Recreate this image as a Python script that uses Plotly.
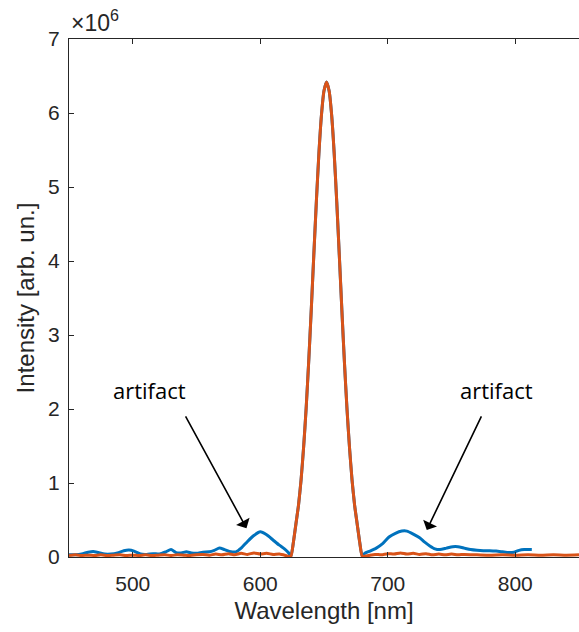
import plotly.graph_objects as go

# Spectra (intensity in units of 1e6, arb. un.)
peak_wl = [624, 626, 628, 630, 632, 634, 636, 638, 640, 642, 644, 646, 648, 650,
           652, 654, 656, 658, 660, 662, 664, 666, 668, 670, 672, 674, 676, 678, 680]
peak_int = [0.01, 0.2, 0.45, 0.7, 1.04, 1.48, 2.01, 2.64, 3.34, 4.08, 4.80, 5.45, 5.97, 6.30,
            6.42, 6.30, 5.97, 5.45, 4.80, 4.08, 3.34, 2.64, 2.01, 1.48, 1.04, 0.7, 0.45, 0.2, 0.01]

blue_left_wl = [450, 455, 460, 465, 469, 473, 478, 483, 488, 493, 497, 501, 506, 511, 516,
                521, 526, 530, 534, 538, 542, 546, 550, 555, 560, 564, 568, 572, 577, 581,
                585, 590, 595, 600, 605, 610, 615, 619, 622]
blue_left_int = [0.03, 0.03, 0.04, 0.065, 0.075, 0.06, 0.04, 0.04, 0.055, 0.085, 0.095, 0.08,
                 0.04, 0.035, 0.045, 0.04, 0.07, 0.1, 0.06, 0.055, 0.07, 0.055, 0.05, 0.065,
                 0.07, 0.09, 0.12, 0.1, 0.07, 0.07, 0.12, 0.21, 0.29, 0.34, 0.3, 0.23, 0.16,
                 0.11, 0.06]
blue_right_wl = [682, 686, 691, 696, 701, 706, 711, 715, 720, 725, 729, 733, 737, 741, 746,
                 751, 755, 760, 765, 770, 775, 780, 785, 790, 795, 799, 803, 807, 813]
blue_right_int = [0.05, 0.08, 0.12, 0.18, 0.27, 0.32, 0.35, 0.35, 0.31, 0.26, 0.2, 0.15, 0.11,
                  0.1, 0.12, 0.14, 0.14, 0.12, 0.1, 0.09, 0.085, 0.085, 0.08, 0.07, 0.06,
                  0.065, 0.09, 0.1, 0.1]

orange_left_wl = [450, 455, 460, 465, 470, 475, 480, 485, 490, 495, 500, 505, 510, 515, 520,
                  525, 530, 535, 540, 545, 550, 555, 560, 565, 570, 575, 580, 585, 590, 595,
                  600, 605, 610, 615, 620, 622]
orange_left_int = [0.02, 0.03, 0.02, 0.025, 0.02, 0.03, 0.02, 0.025, 0.03, 0.02, 0.025, 0.02,
                   0.03, 0.02, 0.025, 0.03, 0.02, 0.03, 0.025, 0.02, 0.03, 0.035, 0.025, 0.04,
                   0.03, 0.045, 0.03, 0.05, 0.035, 0.055, 0.04, 0.05, 0.035, 0.04, 0.02, 0.01]
orange_right_wl = [682, 685, 690, 695, 700, 705, 710, 715, 720, 725, 730, 735, 740, 745, 750,
                   755, 760, 770, 780, 790, 800, 810, 820, 830, 840, 850]
orange_right_int = [0.01, 0.02, 0.035, 0.03, 0.045, 0.04, 0.055, 0.04, 0.05, 0.035, 0.045,
                    0.03, 0.04, 0.03, 0.04, 0.03, 0.035, 0.03, 0.025, 0.03, 0.025, 0.03,
                    0.025, 0.03, 0.025, 0.03]

x_ticks = [500, 600, 700, 800]
y_ticks = [0, 1, 2, 3, 4, 5, 6, 7]

BLUE = "#0072BD"
ORANGE = "#D95319"
AXIS = "#262626"
SANS = "Liberation Sans, Arial, sans-serif"
TICK_FONT = dict(family=SANS, size=21, color=AXIS)
TITLE_FONT = dict(family=SANS, size=24, color=AXIS)
NOTE_FONT = dict(family="Open Sans, sans-serif", size=22, color="black")

fig = go.Figure()
fig.add_trace(go.Scatter(
    x=blue_left_wl + peak_wl + blue_right_wl,
    y=blue_left_int + peak_int + blue_right_int,
    mode="lines", line=dict(color=BLUE, width=3, shape="spline", smoothing=0.6),
    showlegend=False))
fig.add_trace(go.Scatter(
    x=orange_left_wl + peak_wl + orange_right_wl,
    y=orange_left_int + peak_int + orange_right_int,
    mode="lines", line=dict(color=ORANGE, width=3, shape="spline", smoothing=0.6),
    showlegend=False))

# Labels and arrows pointing at the side bumps
for tx, ax, ay, hx, hy in [(513.4, 540.8, 1.92, 589.2, 0.39),
                           (785.2, 774.0, 1.92, 730.6, 0.365)]:
    fig.add_annotation(x=tx, y=2.26, text="artifact", showarrow=False, font=NOTE_FONT)
    fig.add_annotation(x=hx, y=hy, ax=ax, ay=ay, axref="x", ayref="y", text="",
                       showarrow=True, arrowhead=1, arrowsize=1.6, arrowwidth=1.6,
                       arrowcolor="black")

# Exponent marker for the intensity axis
fig.add_annotation(xref="paper", yref="paper", x=0, y=1, xanchor="left", yanchor="bottom",
                   yshift=1, text="×10<sup>6</sup>", showarrow=False,
                   font=dict(family=SANS, size=23, color=AXIS))

fig.update_xaxes(range=[450, 850], tickvals=x_ticks, ticks="inside", ticklen=5,
                 tickcolor=AXIS, showline=True, linecolor=AXIS, linewidth=1,
                 mirror="ticks", showgrid=False, zeroline=False, tickfont=TICK_FONT,
                 ticklabelstandoff=8,
                 title=dict(text="Wavelength [nm]", font=TITLE_FONT, standoff=7))
fig.update_yaxes(range=[0, 7], tickvals=y_ticks, ticktext=[str(v) for v in y_ticks],
                 ticks="inside", ticklen=5, tickcolor=AXIS, showline=True, linecolor=AXIS,
                 linewidth=1, showgrid=False, zeroline=False, tickfont=TICK_FONT,
                 ticklabelstandoff=4,
                 title=dict(text="Intensity [arb. un.]", font=TITLE_FONT, standoff=6))

fig.update_layout(width=579, height=632, margin=dict(l=69, r=0, t=39, b=75),
                  plot_bgcolor="white", paper_bgcolor="white")

fig.write_html("out.html")
